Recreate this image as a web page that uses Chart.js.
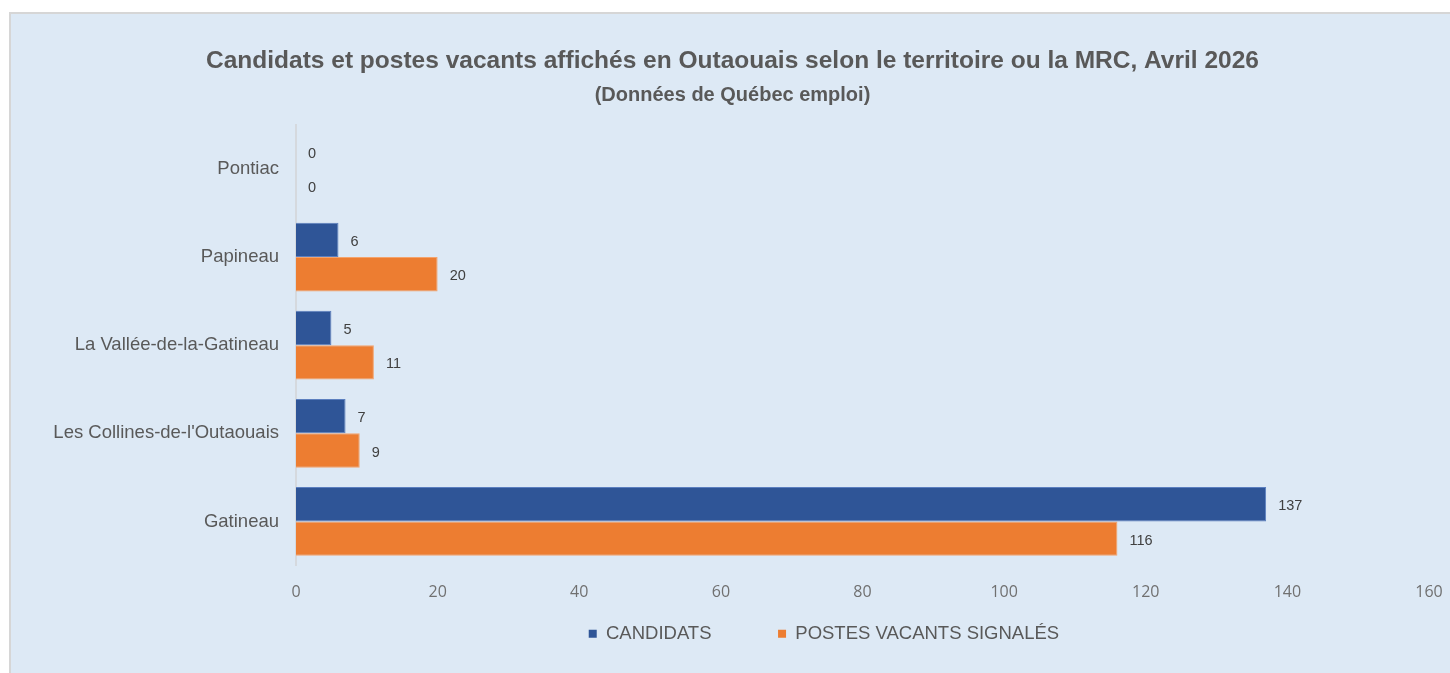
<!DOCTYPE html>
<html>
<head>
<meta charset="utf-8">
<script src="https://cdn.jsdelivr.net/npm/chart.js@4"></script>
<style>
  html, body { margin: 0; padding: 0; background: #ffffff; overflow: hidden; }
  #panel {
    position: absolute; left: 9px; top: 12px; width: 1441px; height: 661px;
    background: #dde9f5; border: 2px solid #d6d6d6; border-right: none; border-bottom: none;
    box-sizing: border-box;
  }
  #wrap { position: absolute; left: 12px; top: 0; width: 1438px; height: 673px; }
</style>
</head>
<body>
<div id="panel"></div>
<div id="wrap"><canvas id="chart"></canvas></div>
<script>
// Données
const territoires = ['Pontiac', 'Papineau', 'La Vallée-de-la-Gatineau', "Les Collines-de-l'Outaouais", 'Gatineau'];
const candidats = [0, 6, 5, 7, 137];
const postesVacants = [0, 20, 11, 9, 116];
const ticksX = [0, 20, 40, 60, 80, 100, 120, 140, 160];

const police = "'Liberation Sans', Arial, sans-serif";

// étiquettes de valeur à droite des barres
const etiquettes = {
    id: 'etiquettes',
    afterDatasetsDraw(chart) {
        const ctx = chart.ctx;
        ctx.save();
        ctx.font = '14.5px ' + police;
        ctx.fillStyle = '#404040';
        ctx.textBaseline = 'middle';
        ctx.textAlign = 'left';
        chart.data.datasets.forEach(function(ds, i) {
            chart.getDatasetMeta(i).data.forEach(function(bar, j) {
                ctx.fillText(ds.data[j], bar.x + 12, bar.y + 2);
            });
        });
        ctx.restore();
    }
};

// espaces en fin de libellé pour écarter les deux entrées comme dans Excel
const espaces = ['           ', '               '];

const ctx = document.getElementById('chart').getContext('2d');
new Chart(ctx, {
    type: 'bar',
    data: {
        labels: territoires,
        datasets: [{
            label: 'CANDIDATS',
            data: candidats,
            backgroundColor: '#2f5597',
            borderColor: '#5b7fbf',
            borderWidth: 1
        }, {
            label: 'POSTES VACANTS SIGNALÉS',
            data: postesVacants,
            backgroundColor: '#ed7d31',
            borderColor: '#f4a36c',
            borderWidth: 1
        }]
    },
    options: {
        indexAxis: 'y',
        responsive: true,
        maintainAspectRatio: false,
        animation: false,
        layout: { padding: { left: 24, right: 21, top: 0, bottom: 20 } },
        datasets: { bar: { barPercentage: 1, categoryPercentage: 0.78 } },
        scales: {
            x: {
                min: 0, max: 160,
                afterBuildTicks: function(axis) { axis.ticks = ticksX.map(v => ({ value: v })); },
                afterFit: function(axis) { axis.height = 49; },
                grid: { display: false, drawTicks: true, tickLength: 17 },
                border: { display: false },
                ticks: { color: '#707070', font: { family: "'Open Sans', sans-serif", size: 16 }, padding: 0 }
            },
            y: {
                afterFit: function(axis) { axis.width = 260; },
                grid: { display: false, drawTicks: false },
                border: { display: true, color: '#d5d9de', width: 2 },
                ticks: { color: '#595959', font: { family: police, size: 18.5 }, padding: 17 }
            }
        },
        plugins: {
            title: {
                display: true,
                text: 'Candidats et postes vacants affichés en Outaouais selon le territoire ou la MRC, Avril 2026',
                color: '#595959',
                font: { family: police, size: 24.5, weight: 'bold' },
                padding: { top: 47, bottom: 7 }
            },
            subtitle: {
                display: true,
                text: '(Données de Québec emploi)',
                color: '#595959',
                font: { family: police, size: 20, weight: 'bold' },
                padding: { top: 0, bottom: 17.5 }
            },
            legend: {
                position: 'bottom',
                fullSize: false,
                labels: {
                    color: '#595959',
                    font: { family: police, size: 18.5 },
                    boxWidth: 8, boxHeight: 8,
                    padding: 10,
                    generateLabels: function(chart) {
                        return chart.data.datasets.map(function(ds, i) {
                            return {
                                text: ds.label + espaces[i],
                                fillStyle: ds.backgroundColor,
                                strokeStyle: ds.backgroundColor,
                                lineWidth: 0,
                                fontColor: '#595959',
                                datasetIndex: i
                            };
                        });
                    }
                }
            },
            tooltip: { enabled: false }
        }
    },
    plugins: [etiquettes]
});
</script>
</body>
</html>
